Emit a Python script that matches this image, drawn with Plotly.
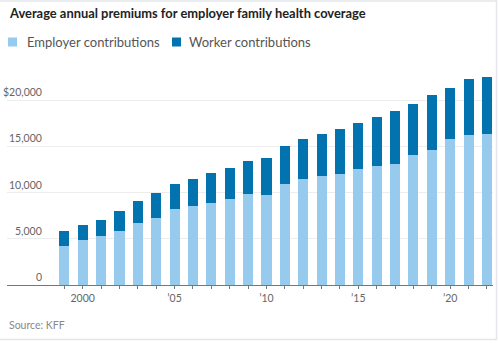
import plotly.graph_objects as go

years = list(range(1999, 2023))
employer = [4247, 4819, 5274, 5866, 6657, 7289, 8167, 8508, 8824, 9325, 9860, 9773,
            10944, 11429, 11786, 12011, 12591, 12865, 13049, 14069, 14561, 15754, 16253, 16357]
worker = [1543, 1619, 1787, 2137, 2412, 2661, 2713, 2973, 3281, 3354, 3515, 3997,
          4129, 4316, 4565, 4823, 4955, 5277, 5714, 5547, 6015, 5588, 5969, 6106]
x_tick_labels = {2000: "2000", 2005: "’05", 2010: "’10", 2015: "’15", 2020: "’20"}
y_ticks = [0, 5000, 10000, 15000, 20000]
y_labels = ["0", "5,000", "10,000", "15,000", "$20,000"]

title = "Average annual premiums for employer family health coverage"
series_names = ["Employer contributions", "Worker contributions"]
colors = ["#97CBEE", "#0273AE"]

W, H = 499, 343
L, R, T, B = 7, 6, 67, 58
PW, PH = W - L - R, H - T - B
FONT = "Lato"


def px(x):
    return (x - L) / PW


def py(y):
    return (H - B - y) / PH


fig = go.Figure()
for name, vals, c in zip(series_names, [employer, worker], colors):
    fig.add_trace(go.Bar(x=years, y=vals, name=name, marker=dict(color=c, line=dict(width=0)),
                         showlegend=False))

annotations = []
shapes = []
# title
annotations.append(dict(text="<b>" + title + "</b>", x=px(7), y=py(12.5), xref="paper", yref="paper",
                        xanchor="left", yanchor="middle", showarrow=False,
                        font=dict(family=FONT, size=12.9, color="#222")))
# legend
leg = [(8, 25), (172, 187)]
for (sx, tx), name, c in zip(leg, series_names, colors):
    shapes.append(dict(type="rect", xref="paper", yref="paper", x0=px(sx), x1=px(sx + 9),
                       y0=py(46.5), y1=py(37.5), fillcolor=c, line=dict(width=0)))
    annotations.append(dict(text=name, x=px(tx), y=py(42), xref="paper", yref="paper",
                            xanchor="left", yanchor="middle", showarrow=False,
                            font=dict(family=FONT, size=13, color="#555")))
# y tick labels above gridlines
for v, lab in zip(y_ticks, y_labels):
    annotations.append(dict(text=lab, x=px(44), y=v, xref="paper", yref="y", xanchor="right",
                            yanchor="bottom", yshift=0, showarrow=False,
                            font=dict(family=FONT, size=10.5, color="#666")))
# source
annotations.append(dict(text="Source: KFF", x=px(7), y=py(325), xref="paper", yref="paper",
                        xanchor="left", yanchor="middle", showarrow=False,
                        font=dict(family=FONT, size=10.5, color="#888")))
# card border
shapes.append(dict(type="rect", xref="paper", yref="paper", x0=px(-3), x1=px(496.5),
                   y0=py(339.5), y1=py(1), line=dict(color="#E3E7EB", width=1.5),
                   fillcolor="rgba(0,0,0,0)", layer="below"))

fig.update_layout(
    width=W, height=H, margin=dict(l=L, r=R, t=T, b=B),
    paper_bgcolor="white", plot_bgcolor="white",
    barmode="stack", bargap=0.45,
    annotations=annotations, shapes=shapes,
    xaxis=dict(range=[1995.88, 2022.33], tickvals=years,
               ticktext=[x_tick_labels.get(y, "") for y in years],
               showline=True, linecolor="#777", linewidth=1, ticks="outside", ticklen=3,
               tickcolor="#777", showgrid=False, zeroline=False,
               tickfont=dict(family=FONT, size=10.5, color="#666")),
    yaxis=dict(range=[0, PH / 9.25 * 1000], tickvals=y_ticks, showticklabels=False,
               showgrid=True, gridcolor="#EDEDED", gridwidth=1, zeroline=False),
)
fig.write_html("out.html")
